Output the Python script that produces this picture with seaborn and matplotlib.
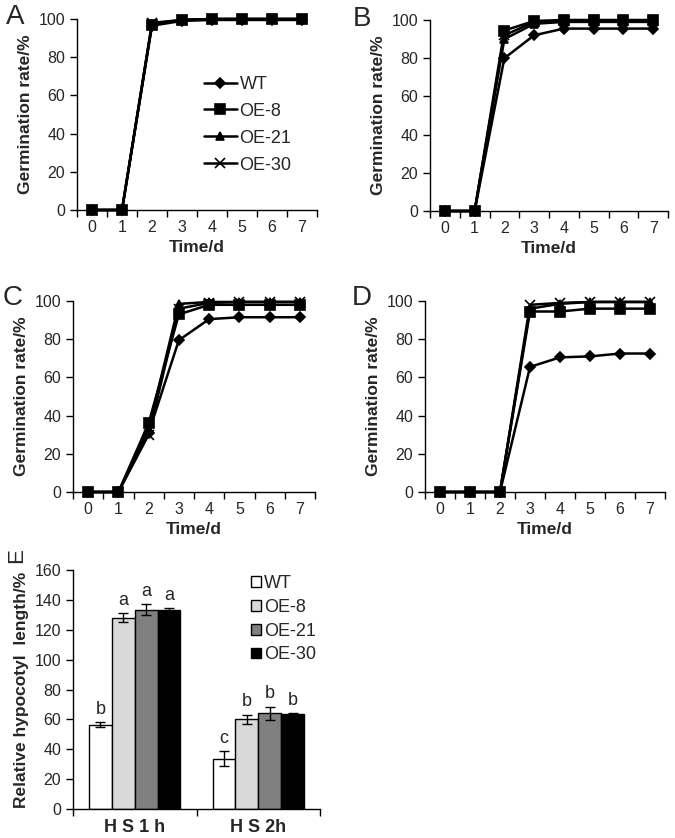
import numpy as np
import pandas as pd
import matplotlib
matplotlib.use('Agg')
import matplotlib.pyplot as plt
import seaborn as sns

sns.set_style('white')
plt.rcParams['font.family'] = ['Liberation Sans', 'DejaVu Sans']

# germination data (days 0-7)
days = [0, 1, 2, 3, 4, 5, 6, 7]
lines = ['WT', 'OE-8', 'OE-21', 'OE-30']
markers = ['D', 's', '^', 'x']
marker_sizes = [5, 7, 6, 7]

panel_a = {
    'WT':    [0, 0, 96.5, 99.0, 99.5, 99.5, 99.5, 99.5],
    'OE-8':  [0, 0, 97.0, 99.5, 100, 100, 100, 100],
    'OE-21': [0, 0, 97.5, 99.5, 100, 100, 100, 100],
    'OE-30': [0, 0, 98.0, 99.5, 100, 100, 100, 100],
}
panel_b = {
    'WT':    [0, 0, 80.0, 92.0, 95.5, 95.5, 95.5, 95.5],
    'OE-8':  [0, 0, 94.5, 99.5, 100, 100, 100, 100],
    'OE-21': [0, 0, 90.0, 98.0, 99.0, 99.0, 99.0, 99.0],
    'OE-30': [0, 0, 92.0, 99.0, 99.5, 99.5, 99.5, 99.5],
}
panel_c = {
    'WT':    [0, 0, 31.0, 79.5, 90.5, 91.5, 91.5, 91.5],
    'OE-8':  [0, 0, 36.0, 93.0, 98.0, 98.0, 98.0, 98.0],
    'OE-21': [0, 0, 33.0, 98.5, 99.5, 99.5, 99.5, 99.5],
    'OE-30': [0, 0, 30.0, 96.0, 99.0, 99.5, 99.5, 99.5],
}
panel_d = {
    'WT':    [0, 0, 0, 65.5, 70.5, 71.0, 72.5, 72.5],
    'OE-8':  [0, 0, 0, 94.5, 94.5, 96.0, 96.0, 96.0],
    'OE-21': [0, 0, 0, 96.0, 98.5, 99.5, 99.5, 99.5],
    'OE-30': [0, 0, 0, 98.0, 99.0, 99.5, 99.5, 99.5],
}

# relative hypocotyl length
treatments = ['H S 1 h', 'H S 2h']
hyp_mean = {
    'WT':    [56.5, 33.5],
    'OE-8':  [128.0, 60.0],
    'OE-21': [133.5, 64.0],
    'OE-30': [133.0, 63.5],
}
hyp_err = {
    'WT':    [1.5, 5.0],
    'OE-8':  [3.0, 3.0],
    'OE-21': [3.5, 4.5],
    'OE-30': [1.5, 0.5],
}
hyp_letters = {
    'WT':    ['b', 'c'],
    'OE-8':  ['a', 'b'],
    'OE-21': ['a', 'b'],
    'OE-30': ['a', 'b'],
}
bar_colors = ['white', '#d9d9d9', '#808080', 'black']

W, H = 675, 838
fig = plt.figure(figsize=(W / 100, H / 100), dpi=100)


def px_axes(left, top, right, bottom):
    return fig.add_axes([left / W, 1 - bottom / H, (right - left) / W, (bottom - top) / H])


def px_text(x, y, s, **kw):
    fig.text(x / W, 1 - y / H, s, ha='center', va='center', **kw)


def style_axes(ax):
    for s in ['top', 'right']:
        ax.spines[s].set_visible(False)
    for s in ['left', 'bottom']:
        ax.spines[s].set_linewidth(1.0)
        ax.spines[s].set_color('black')
    ax.tick_params(axis='both', which='both', direction='out', length=5,
                   width=1, color='black', labelsize=11.5, left=True, bottom=True)


def germ_panel(ax, data, legend=False):
    for name, m, ms in zip(lines, markers, marker_sizes):
        sns.lineplot(x=days, y=data[name], ax=ax, color='black', marker=m,
                     markersize=ms, markeredgecolor='black', markeredgewidth=1.2,
                     linewidth=1.8, clip_on=False, label=name)
    style_axes(ax)
    ax.set_xlim(-0.5, 7.5)
    ax.set_ylim(0, 100)
    ax.set_yticks(np.arange(0, 101, 20))
    ax.set_xticks(days)
    ax.set_xticks(np.arange(-0.5, 8, 1), minor=True)
    ax.tick_params(axis='x', which='major', length=0, pad=7)
    ax.set_xlabel('Time/d', fontsize=12.5, fontweight='bold', labelpad=4)
    ax.set_ylabel('Germination rate/%', fontsize=12.5, fontweight='bold', labelpad=4)
    if legend:
        ax.legend(loc='upper left', bbox_to_anchor=(0.5, 0.74), frameon=False,
                  fontsize=13, handlelength=1.8, handletextpad=0.15,
                  labelspacing=0.55, borderaxespad=0)
    else:
        ax.get_legend().remove()


ax_a = px_axes(77, 19, 317, 210)
germ_panel(ax_a, panel_a, legend=True)
ax_b = px_axes(430, 20, 668, 211)
germ_panel(ax_b, panel_b)
ax_c = px_axes(73, 301, 315, 492)
germ_panel(ax_c, panel_c)
ax_d = px_axes(425, 301, 665, 492)
germ_panel(ax_d, panel_d)

px_text(15, 17, 'A', fontsize=20)
px_text(362, 19, 'B', fontsize=20)
px_text(13, 298, 'C', fontsize=20)
px_text(362, 298, 'D', fontsize=20)
px_text(17, 556, 'E', fontsize=16, rotation=90)

# panel E
ax_e = px_axes(73, 570, 320, 809)
rows = []
for name in lines:
    for t, v in zip(treatments, hyp_mean[name]):
        rows.append({'treatment': t, 'line': name, 'value': v})
df = pd.DataFrame(rows)
sns.barplot(data=df, x='treatment', y='value', hue='line', hue_order=lines,
            order=treatments, palette=bar_colors, edgecolor='black',
            linewidth=1, width=0.74, gap=0, errorbar=None, ax=ax_e)
for name, cont in zip(lines, ax_e.containers):
    for i, patch in enumerate(cont.patches):
        xc = patch.get_x() + patch.get_width() / 2
        h = patch.get_height()
        e = hyp_err[name][i]
        ax_e.errorbar(xc, h, yerr=e, color='black', capsize=3.5,
                      elinewidth=1, capthick=1)
        ax_e.text(xc, h + e + 3, hyp_letters[name][i], ha='center',
                  va='bottom', fontsize=13)
style_axes(ax_e)
ax_e.set_xlim(-0.5, 1.5)
ax_e.set_ylim(0, 160)
ax_e.set_yticks(np.arange(0, 161, 20))
ax_e.set_xticks([-0.5, 0.5, 1.5], minor=True)
ax_e.tick_params(axis='x', which='major', length=0, pad=7, labelsize=13)
for lab in ax_e.get_xticklabels():
    lab.set_fontweight('bold')
ax_e.set_xlabel('')
ax_e.set_ylabel('Relative hypocotyl  length/%', fontsize=12.5,
                fontweight='bold', labelpad=4)
ax_e.legend(loc='upper left', bbox_to_anchor=(0.69, 1.01), frameon=False,
            fontsize=13, handlelength=0.55, handleheight=0.55,
            handletextpad=0.2, labelspacing=0.38, borderaxespad=0)

fig.savefig('out.png', dpi=100, facecolor='white')
